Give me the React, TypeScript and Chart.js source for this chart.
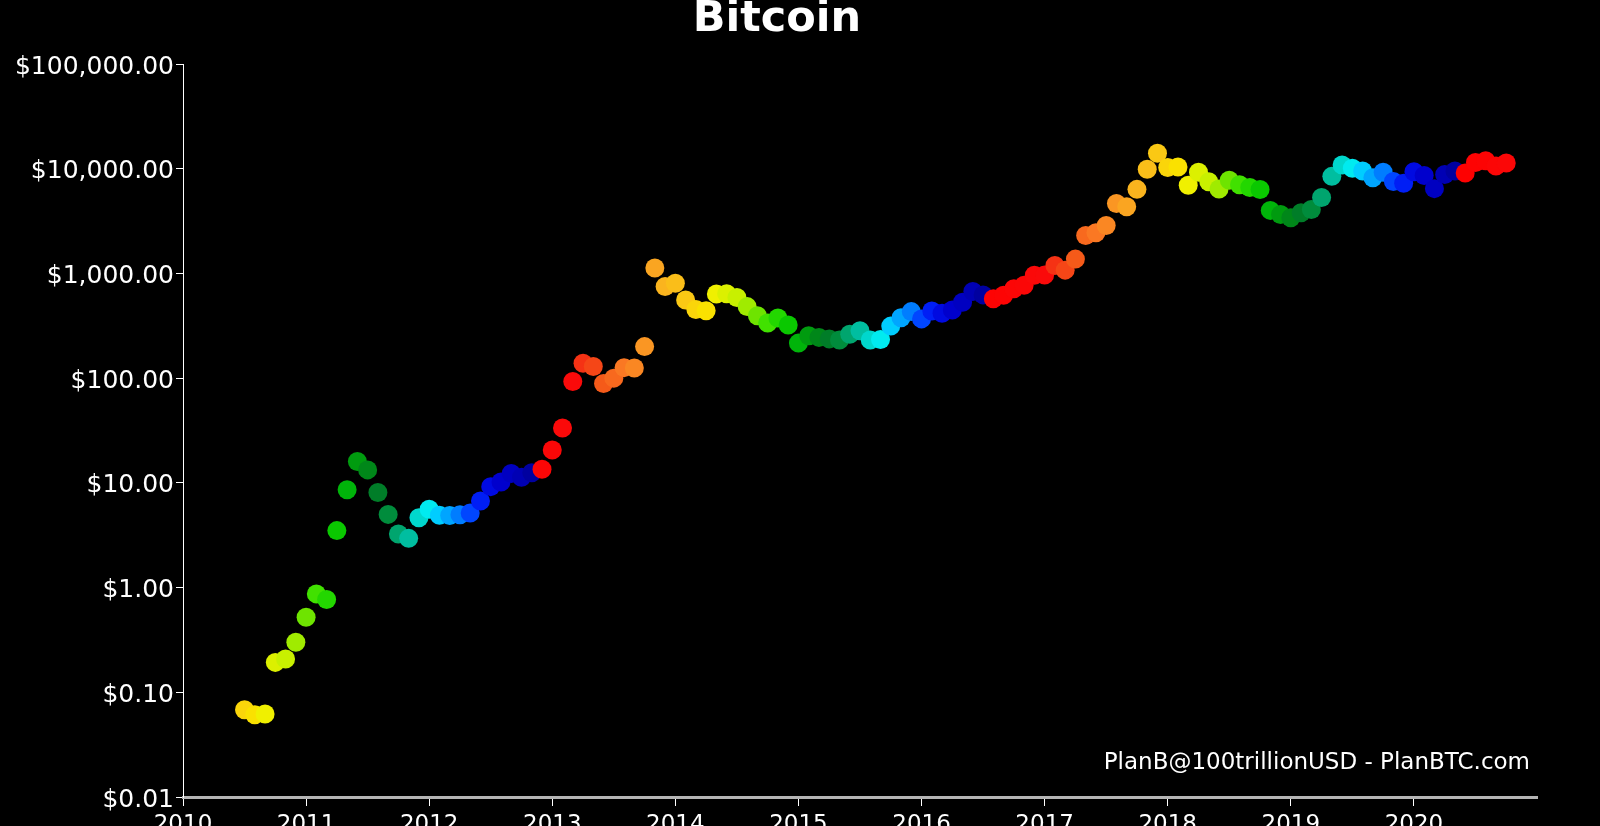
import React, { useEffect, useRef } from "react";
import { Chart, registerables } from "chart.js";

Chart.register(...registerables);

// ---------- data (monthly closes, USD) ----------
const MONTHS_2010 = ["2010-07", "2010-08", "2010-09", "2010-10", "2010-11", "2010-12"];
const PRICES_2010 = [0.068, 0.061, 0.062, 0.193, 0.208, 0.3];

const MONTHS_2011 = ["2011-01", "2011-02", "2011-03", "2011-04", "2011-05", "2011-06", "2011-07", "2011-08", "2011-09", "2011-10", "2011-11", "2011-12"];
const PRICES_2011 = [0.52, 0.87, 0.77, 3.5, 8.6, 16.0, 13.3, 8.1, 5.0, 3.25, 2.95, 4.65];

const MONTHS_2012 = ["2012-01", "2012-02", "2012-03", "2012-04", "2012-05", "2012-06", "2012-07", "2012-08", "2012-09", "2012-10", "2012-11", "2012-12"];
const PRICES_2012 = [5.6, 4.9, 4.88, 4.95, 5.15, 6.7, 9.2, 10.2, 12.3, 11.3, 12.5, 13.5];

const MONTHS_2013 = ["2013-01", "2013-02", "2013-03", "2013-04", "2013-05", "2013-06", "2013-07", "2013-08", "2013-09", "2013-10", "2013-11", "2013-12"];
const PRICES_2013 = [20.6, 33.4, 93, 139, 129, 89, 100, 126, 125, 200, 1125, 750];

const MONTHS_2014 = ["2014-01", "2014-02", "2014-03", "2014-04", "2014-05", "2014-06", "2014-07", "2014-08", "2014-09", "2014-10", "2014-11", "2014-12"];
const PRICES_2014 = [805, 558, 452, 440, 635, 640, 590, 482, 395, 336, 376, 322];

const MONTHS_2015 = ["2015-01", "2015-02", "2015-03", "2015-04", "2015-05", "2015-06", "2015-07", "2015-08", "2015-09", "2015-10", "2015-11", "2015-12"];
const PRICES_2015 = [216, 254, 245, 237, 231, 262, 284, 231, 234, 314, 378, 432];

const MONTHS_2016 = ["2016-01", "2016-02", "2016-03", "2016-04", "2016-05", "2016-06", "2016-07", "2016-08", "2016-09", "2016-10", "2016-11", "2016-12"];
const PRICES_2016 = [368, 437, 416, 448, 531, 673, 624, 573, 620, 715, 770, 961];

const MONTHS_2017 = ["2017-01", "2017-02", "2017-03", "2017-04", "2017-05", "2017-06", "2017-07", "2017-08", "2017-09", "2017-10", "2017-11", "2017-12"];
const PRICES_2017 = [965, 1190, 1075, 1370, 2300, 2450, 2870, 4650, 4330, 6350, 9900, 14050];

const MONTHS_2018 = ["2018-01", "2018-02", "2018-03", "2018-04", "2018-05", "2018-06", "2018-07", "2018-08", "2018-09", "2018-10", "2018-11", "2018-12"];
const PRICES_2018 = [10250, 10400, 6950, 9250, 7500, 6400, 7750, 7030, 6620, 6340, 4000, 3650];

const MONTHS_2019 = ["2019-01", "2019-02", "2019-03", "2019-04", "2019-05", "2019-06", "2019-07", "2019-08", "2019-09", "2019-10", "2019-11", "2019-12"];
const PRICES_2019 = [3400, 3800, 4080, 5300, 8450, 10850, 10100, 9500, 8200, 9250, 7550, 7250];

const MONTHS_2020 = ["2020-01", "2020-02", "2020-03", "2020-04", "2020-05", "2020-06", "2020-07", "2020-08", "2020-09", "2020-10"];
const PRICES_2020 = [9350, 8600, 6450, 8800, 9500, 9100, 11450, 11900, 10600, 11350];

const HALVING_MONTHS = ["2012-12", "2016-08", "2020-06", "2024-05"];

const Y_TICKS = [0.01, 0.1, 1, 10, 100, 1000, 10000, 100000];
const X_TICKS = [2010, 2011, 2012, 2013, 2014, 2015, 2016, 2017, 2018, 2019, 2020];
const X_MIN = 2010;
const X_MAX = 2021;

const TITLE = "Bitcoin";
const CREDIT = "PlanB@100trillionUSD - PlanBTC.com";

const MONTHS = [
  ...MONTHS_2010, ...MONTHS_2011, ...MONTHS_2012, ...MONTHS_2013, ...MONTHS_2014, ...MONTHS_2015,
  ...MONTHS_2016, ...MONTHS_2017, ...MONTHS_2018, ...MONTHS_2019, ...MONTHS_2020,
];
const PRICES = [
  ...PRICES_2010, ...PRICES_2011, ...PRICES_2012, ...PRICES_2013, ...PRICES_2014, ...PRICES_2015,
  ...PRICES_2016, ...PRICES_2017, ...PRICES_2018, ...PRICES_2019, ...PRICES_2020,
];

// ---------- helpers ----------
function monthIndex(s: string): number {
  const [y, m] = s.split("-").map(Number);
  return y * 12 + (m - 1);
}
function decimalYear(s: string): number {
  const [y, m] = s.split("-").map(Number);
  return y + (m - 1) / 12;
}
function monthsToNextHalving(s: string): number {
  const t = monthIndex(s);
  for (const h of HALVING_MONTHS) {
    const hi = monthIndex(h);
    if (hi > t) return hi - t;
  }
  return 1;
}

// colour stops: months until next halving -> rgb
const COLOR_STOPS: [number, number, number, number][] = [
  [1, 0, 0, 160],
  [2, 0, 0, 180],
  [4, 0, 0, 205],
  [5, 0, 10, 225],
  [6, 0, 30, 245],
  [7, 0, 70, 255],
  [8, 0, 125, 255],
  [9, 0, 165, 255],
  [10, 0, 205, 255],
  [11, 0, 235, 240],
  [12, 0, 215, 205],
  [13, 0, 190, 160],
  [14, 0, 165, 110],
  [15, 0, 140, 60],
  [16, 0, 125, 40],
  [17, 0, 135, 25],
  [18, 0, 155, 15],
  [19, 0, 180, 10],
  [20, 10, 200, 0],
  [21, 35, 215, 0],
  [22, 65, 225, 0],
  [23, 110, 228, 0],
  [24, 160, 235, 0],
  [25, 200, 240, 0],
  [27, 240, 240, 0],
  [28, 250, 225, 0],
  [30, 250, 200, 20],
  [32, 250, 180, 30],
  [34, 250, 150, 35],
  [36, 250, 120, 35],
  [38, 245, 90, 25],
  [40, 245, 50, 20],
  [41, 250, 10, 10],
  [48, 255, 0, 0],
];

function colorFor(m: number): string {
  if (m <= COLOR_STOPS[0][0]) {
    const c = COLOR_STOPS[0];
    return `rgb(${c[1]},${c[2]},${c[3]})`;
  }
  for (let i = 1; i < COLOR_STOPS.length; i++) {
    const a = COLOR_STOPS[i - 1];
    const b = COLOR_STOPS[i];
    if (m <= b[0]) {
      const f = (m - a[0]) / (b[0] - a[0]);
      const r = Math.round(a[1] + (b[1] - a[1]) * f);
      const g = Math.round(a[2] + (b[2] - a[2]) * f);
      const bl = Math.round(a[3] + (b[3] - a[3]) * f);
      return `rgb(${r},${g},${bl})`;
    }
  }
  const c = COLOR_STOPS[COLOR_STOPS.length - 1];
  return `rgb(${c[1]},${c[2]},${c[3]})`;
}

const FONT = "'DejaVu Sans', 'Noto Sans', sans-serif";

const textPlugin = {
  id: "textOverlay",
  afterDraw(chart: any) {
    const ctx = chart.ctx;
    ctx.save();
    ctx.fillStyle = "#ffffff";
    ctx.font = `bold 43px ${FONT}`;
    ctx.textAlign = "center";
    ctx.textBaseline = "alphabetic";
    ctx.fillText(TITLE, 777, 31);
    ctx.font = `23px ${FONT}`;
    ctx.textAlign = "right";
    ctx.fillText(CREDIT, 1530, 769);
    ctx.restore();
  },
};

export default function App() {
  const ref = useRef<HTMLCanvasElement | null>(null);

  useEffect(() => {
    document.body.style.background = "#000";
    const canvas = ref.current;
    if (!canvas) return;
    const points = MONTHS.map((m, i) => ({ x: decimalYear(m), y: PRICES[i] }));
    const colors = MONTHS.map((m) => colorFor(monthsToNextHalving(m)));

    const chart = new Chart(canvas, {
      type: "scatter",
      data: {
        datasets: [
          {
            data: points,
            pointRadius: 9.5,
            pointHoverRadius: 9.5,
            pointBorderWidth: 0,
            borderWidth: 0,
            pointBackgroundColor: colors,
            backgroundColor: colors,
            showLine: false,
          },
        ],
      },
      options: {
        animation: false,
        responsive: false,
        maintainAspectRatio: false,
        events: [],
        layout: { padding: { top: 64, right: 63, left: 0, bottom: 0 } },
        plugins: {
          legend: { display: false },
          tooltip: { enabled: false },
          title: { display: false },
        },
        scales: {
          x: {
            type: "linear",
            min: X_MIN,
            max: X_MAX,
            afterBuildTicks: (s: any) => {
              s.ticks = X_TICKS.map((v) => ({ value: v }));
            },
            afterFit: (s: any) => {
              s.height = 29;
            },
            grid: {
              display: true,
              drawOnChartArea: false,
              drawTicks: true,
              tickLength: 9,
              color: "#ffffff",
              tickColor: "#ffffff",
              tickWidth: 1,
            },
            border: { display: true, color: "#b4b4b4", width: 3 },
            ticks: {
              color: "#ffffff",
              font: { family: FONT, size: 23 },
              padding: 5,
              maxRotation: 0,
              autoSkip: false,
              callback: (v: any) => String(v),
            },
          },
          y: {
            type: "logarithmic",
            min: 0.01,
            max: 100000,
            afterBuildTicks: (s: any) => {
              s.ticks = Y_TICKS.map((v) => ({ value: v }));
            },
            afterFit: (s: any) => {
              s.width = 183;
            },
            grid: {
              display: true,
              drawOnChartArea: false,
              drawTicks: true,
              tickLength: 7,
              color: "#ffffff",
              tickColor: "#ffffff",
              tickWidth: 1,
            },
            border: { display: true, color: "#ffffff", width: 1 },
            ticks: {
              color: "#ffffff",
              font: { family: FONT, size: 25 },
              padding: 2,
              labelOffset: 3,
              autoSkip: false,
              callback: (v: any) =>
                "$" +
                Number(v).toLocaleString("en-US", {
                  minimumFractionDigits: 2,
                  maximumFractionDigits: 2,
                }),
            },
          },
        },
      },
      plugins: [textPlugin],
    });
    return () => chart.destroy();
  }, []);

  return (
    <div
      style={{
        position: "fixed",
        left: 0,
        top: 0,
        width: 1600,
        height: 826,
        background: "#000",
        overflow: "hidden",
      }}
    >
      <canvas ref={ref} width={1600} height={826} style={{ display: "block", width: 1600, height: 826 }} />
    </div>
  );
}
